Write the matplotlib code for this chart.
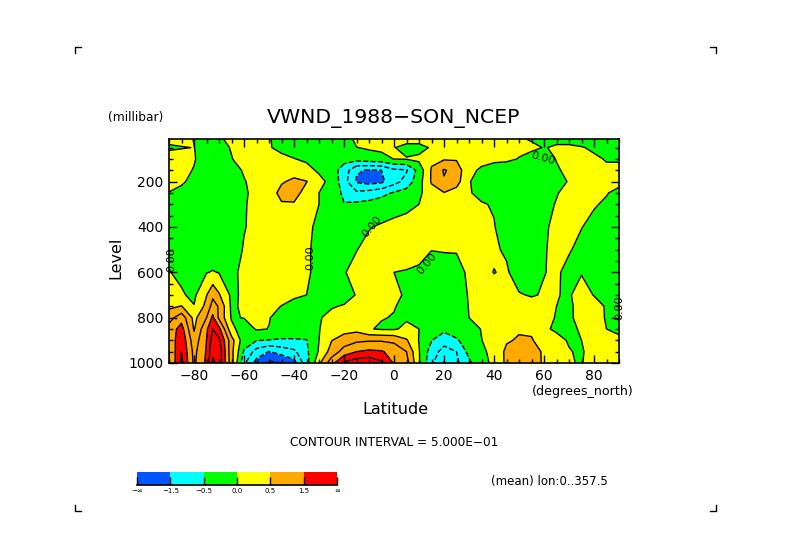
import numpy as np
import matplotlib
matplotlib.use("Agg")
import matplotlib.pyplot as plt
from matplotlib.colors import ListedColormap, BoundaryNorm

W, H = 789, 558

lats = [-90,-85,-80,-75,-72.5,-70,-65,-60,-55,-50,-45,-40,-35,-30,-25,-20,-15,-10,-5,0,5,10,15,20,25,30,35,40,45,50,55,60,65,70,75,80,85,90]
levels_mb = [10,50,100,150,200,250,300,400,500,600,700,750,800,850,900,950,1000]

v10 = [.2,.2,-.02,-.2,-.2,-.05,.1,.2,.2,.02,-.1,-.2,-.2,-.2,-.2,-.2,.1,.15,.2,.2,.2,.2,.2,.2,.2,.2,.2,.2,.1,.05,-.05,-.1,-.1,-.1,-.15,-.2,-.2,-.2]
v50 = [-.1,-.03,.01,-.2,-.2,-.15,.03,.2,.2,.03,-.1,-.15,-.2,-.2,-.2,-.1,-.01,.05,.1,.02,-.15,-.15,.05,.2,.2,.2,.2,.2,.2,.1,.1,-.02,.05,.05,.02,-.05,-.1,-.15]
v100 = [.3,.25,.03,-.2,-.2,-.2,-.02,.2,.25,.25,.1,.01,-.05,-.2,-.3,-.35,-.3,-.2,-.15,.01,.03,.1,.4,.45,.45,.2,.1,.1,.1,-.02,-.2,-.2,.02,.1,.15,.05,-.02,-.02]
v150 = [.15,.1,-.02,-.3,-.3,-.3,-.2,.05,.2,.25,.3,.3,.1,-.05,-.3,-.7,-1.45,-1.55,-1.5,-1.1,-1.05,-.3,.55,1.05,.8,.08,-.05,-.2,-.3,-.3,-.3,-.2,-.05,.1,.3,.2,.05,.05]
v200 = [.1,.05,-.1,-.3,-.3,-.3,-.3,-.03,.15,.2,.45,.6,.52,.1,-.1,-.8,-1.55,-1.7,-1.6,-1.2,-.8,-.2,.55,.95,.7,.03,-.2,-.4,-.4,-.4,-.4,-.3,-.1,.02,.2,.25,.15,.1]
v250 = [-.01,-.1,-.2,-.3,-.3,-.3,-.3,-.05,.1,.25,.65,.7,.3,.0,-.2,-.6,-.9,-.8,-.65,-.45,-.3,-.1,.3,.48,.3,.03,-.1,-.3,-.4,-.4,-.4,-.2,-.02,.1,.2,.1,.02,-.1]
v300 = [-.1,-.2,-.2,-.3,-.3,-.3,-.3,-.03,.1,.2,.45,.45,.2,.0,-.2,-.48,-.4,-.35,-.25,-.15,-.1,-.0,.1,.2,.2,.15,.03,-.03,-.2,-.3,-.3,-.1,.02,.1,.1,.03,-.05,-.2]
v400 = [-.2,-.3,-.3,-.3,-.3,-.3,-.3,-.02,.1,.2,.2,.2,.05,-.05,-.1,-.15,-.15,-.02,.05,.1,.15,.2,.2,.2,.2,.2,.1,.02,-.2,-.3,-.2,-.03,.05,.03,.01,-.1,-.2,-.3]
v500 = [-.1,-.2,-.3,-.3,-.3,-.3,-.2,.03,.15,.2,.2,.2,.05,-.1,-.15,-.1,-.01,.1,.15,.2,.15,.1,.01,.03,.02,.1,.1,.05,-.05,-.3,-.25,-.03,.1,.03,-.1,-.2,-.3,-.3]
v600 = [.02,-.1,-.2,-.02,.03,-.02,-.05,.05,.15,.2,.2,.15,.05,-.1,-.1,-.02,.1,.2,.2,-.0,-.02,-.05,-.2,-.2,-.1,.05,.1,-.01,.05,-.2,-.2,-.01,.05,-.1,-.03,-.2,-.3,-.3]
v700 = [.2,.05,-.1,.48,.9,.55,-.1,.08,.15,.2,.15,.05,.0,-.1,-.2,-.15,.02,.1,.1,.05,-.03,-.1,-.2,-.2,-.2,.03,.1,.15,.1,.03,-.03,.03,.02,-.05,.2,-.02,-.1,-.1]
v750 = [.4,.52,.02,.65,1.2,.95,-.1,.1,.1,.1,-.01,-.1,-.15,-.1,-.03,.03,.1,.15,.1,.02,-.1,-.2,-.2,-.25,-.3,.02,.1,.15,.15,.15,.15,.1,-.0,-.1,.2,.2,-.05,-.1]
v800 = [.8,1.3,.35,1.0,1.6,.9,-.05,.02,.1,.02,-.15,-.2,-.2,-.03,.1,.15,.2,.1,.02,-.02,-.05,-.05,-.2,-.3,-.3,.0,.1,.2,.25,.25,.2,.1,-.02,-.1,.2,.25,-.05,-.1]
v850 = [1.2,1.7,.45,1.4,2.0,1.65,.15,-.3,.05,-.01,-.2,-.2,-.2,-.02,.25,.3,.35,.03,-.05,-.05,.1,.0,-.3,-.38,-.3,-.2,.02,.2,.3,.45,.4,.05,-.05,-.1,.05,.25,.0,-.02]
v900 = [1.1,1.9,.7,1.5,2.25,2.1,.7,-.3,-.48,-.52,-.55,-.55,-.52,.0,.48,.75,.9,.95,.95,.9,.55,-.02,-.48,-.8,-.55,-.3,-.01,.2,.45,.55,.55,.2,.1,-.03,.0,.2,.05,.02]
v950 = [1.0,2.0,.85,1.55,2.4,2.3,.65,-.55,-1.2,-1.52,-1.3,-1.1,-.6,.05,.7,1.2,1.5,1.6,1.55,1.3,1.0,.03,-.75,-1.2,-1.0,-.35,-.1,.15,.6,.8,.8,.4,.15,.02,-.05,.2,.2,.15]
v1000 = [.95,2.1,.9,1.6,2.6,2.35,.7,-.9,-1.7,-2.1,-2.0,-1.7,-.7,.4,1.3,2.1,2.3,2.4,2.1,1.45,1.2,.05,-.9,-1.55,-1.1,-.6,-.15,.1,.6,.9,.85,.4,.15,.03,-.03,.25,.5,.3]

fill_levels = [-100, -1.5, -0.5, 0, 0.5, 1.5, 100]
line_levels = [-2, -1.5, -1, -0.5, 0, 0.5, 1, 1.5, 2, 2.5, 3]
colors = ['#0055ff', '#00ffff', '#00ff00', '#ffff00', '#ffaa00', '#ff0000']
cbar_bounds = ['\u2212\u221e', '\u22121.5', '\u22120.5', '0.0', '0.5', '1.5', '\u221e']
zero_labels = [(-89, 545, 90), (-33.5, 535, 90), (-9, 400, 50), (13, 560, 50), (59.6, 96, -15), (90, 757, 90)]

Z = np.array([v10,v50,v100,v150,v200,v250,v300,v400,v500,v600,v700,v750,v800,v850,v900,v950,v1000])
X, Y = np.meshgrid(lats, levels_mb)

fig = plt.figure(figsize=(W/100, H/100), dpi=100, facecolor='white')
def px_axes(l, t, r, b):
    return fig.add_axes([l/W, 1-b/H, (r-l)/W, (b-t)/H])
def T(x, y, s, **kw):
    kw.setdefault('color', 'black')
    fig.text(x/W, 1-y/H, s, va=kw.pop('va', 'center'), **kw)

ax = px_axes(169, 139, 619, 363)
ax.contourf(X, Y, Z, levels=fill_levels, colors=colors, antialiased=False)
ls = ['dashed' if l < 0 else 'solid' for l in line_levels]
ax.contour(X, Y, Z, levels=line_levels, colors='black', linewidths=1.0, linestyles=ls)
ax.set_xlim(-90, 90)
ax.set_ylim(1000, 12)
ax.set_xticks(np.arange(-80, 81, 20))
ax.set_xticks(np.arange(-90, 91, 5), minor=True)
ax.set_yticks(np.arange(200, 1001, 200))
ax.set_yticks(np.arange(50, 1001, 50), minor=True)
ax.tick_params(which='major', direction='in', length=6, width=1, top=True, right=True, labelsize=10)
ax.tick_params(which='minor', direction='in', length=3, width=1, top=True, right=True)
ax.tick_params(axis='x', which='major', pad=4.5)
ax.tick_params(axis='y', which='major', pad=4)
for s in ax.spines.values():
    s.set_linewidth(1.2)
for lx, ly, rot in zero_labels:
    ax.text(lx, ly, '0.00', rotation=rot, fontsize=8, ha='center', va='center', clip_on=False)

T(394, 119, 'VWND_1988\u2212SON_NCEP', ha='center', fontsize=14.7)
T(108, 118, '(millibar)', ha='left', fontsize=8.8)
T(116, 258, 'Level', ha='center', rotation=90, fontsize=11.5)
T(395, 410, 'Latitude', ha='center', fontsize=11.5)
T(634, 391, '(degrees_north)', ha='right', fontsize=9.1)
T(394, 443, 'CONTOUR INTERVAL = 5.000E\u221201', ha='center', fontsize=8.75)
T(491, 481, '(mean) lon:0..357.5', ha='left', fontsize=8.45)

cax = px_axes(137, 472, 337, 485)
edges = np.arange(len(colors) + 1)
cax.pcolormesh(edges, [0, 1], np.arange(len(colors)).reshape(1, -1),
               cmap=ListedColormap(colors), norm=BoundaryNorm(np.arange(len(colors)+1)-0.5, len(colors)))
cax.set_xlim(0, len(colors))
cax.set_ylim(0, 1)
cax.set_yticks([])
cax.set_xticks(edges)
cax.set_xticklabels(cbar_bounds, fontsize=5)
cax.tick_params(axis='x', direction='in', length=6, width=1, pad=2, color='black')
for name, s in cax.spines.items():
    s.set_visible(name == 'bottom')
    s.set_linewidth(1.2)

# Crop marks at the page corners
page = fig.add_axes([0, 0, 1, 1], facecolor='none')
page.set_xlim(0, W); page.set_ylim(H, 0); page.axis('off')
for cx, cy, dx, dy in [(75, 47, 1, 1), (716, 47, -1, 1), (75, 511, 1, -1), (716, 511, -1, -1)]:
    page.plot([cx + 6*dx, cx, cx], [cy, cy, cy + 6*dy], color='black', lw=1)

fig.savefig('out.png', dpi=100)
